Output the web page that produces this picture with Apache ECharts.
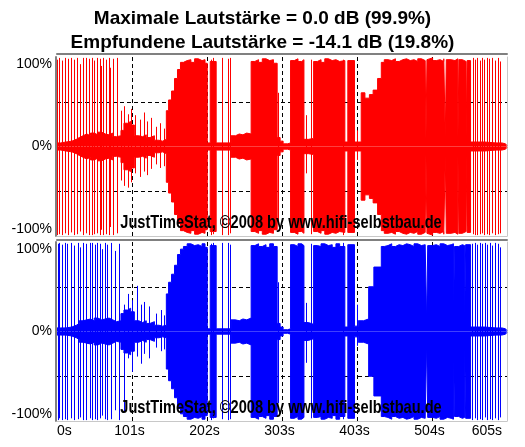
<!DOCTYPE html>
<html>
<head>
<meta charset="utf-8">
<script src="https://cdn.jsdelivr.net/npm/echarts@6/dist/echarts.min.js"></script>
<style>html,body{margin:0;padding:0;background:#fff}#c{width:525px;height:447px}</style>
</head>
<body>
<div id="c"></div>
<script>
// ---------- data ----------
const titleLines = ['Maximale Lautstärke = 0.0 dB (99.9%)', 'Empfundene Lautstärke = -14.1 dB (19.8%)'];
const watermark = 'JustTimeStat, ©2008 by www.hifi-selbstbau.de';
const xMaxSeconds = 605;
const xTickLabels = ['0s', '101s', '202s', '303s', '403s', '504s', '605s'];
const yTickLabels = { '100': '100%', '0': '0%', '-100': '-100%' };

// envelope: [start time s, amplitude %] (holds until next point)
const redEnvelope = [
  [0,4],[5,5],[12,6],[20,8],[26,10],[30,12],[35,14],[40,12],[45,15],[50,13],[55,16],[60,14],[65,13],[70,15],[75,11],[80,12],
  [86,18],[90,26],[95,28],[99,24],[104,12],[110,11],[115,13],[120,10],[125,12],[131,7],[137,6],[142,8],
  [147,40],[150,52],[154,62],[158,76],[162,86],[166,94],[170,96],[175,97],[180,94],[185,98],[190,96],[195,97],[199,93],
  [202,4],[206,95],[214,4],[234,12],[240,14],[245,13],[250,15],[255,14],
  [261,95],[266,97],[271,94],[276,98],[281,96],[286,97],[291,93],[296,10],[300,6],[304,3],[310,4],
  [314,96],[319,98],[324,95],[329,97],[332,8],[338,9],
  [345,95],[350,97],[355,94],[360,98],[365,96],[370,97],[375,95],[380,96],[387,5],[391,96],[400,5],
  [409,60],[414,54],[420,58],[425,63],[431,76],[436,94],[440,97],[445,96],[450,98],[455,95],[460,97],[465,98],[470,96],
  [475,97],[480,95],[485,98],[490,96],[495,97],[496,8],[497.4,97],[500,99],[505,96],[510,97],[515,95],[520,98],[522,10],[523.4,97],
  [525,97],[530,96],[535,98],[539,9],[540.4,97],[545,95],[550,10],[551.4,96],[556,5],[575,4],[590,4],[598,3],[603,1],[605,1]
];
const blueEnvelope = [
  [0,4],[5,4],[12,5],[20,7],[26,9],[30,12],[35,13],[40,14],[45,12],[50,15],[55,13],[60,14],[65,15],[70,13],[75,11],[80,12],
  [86,20],[90,24],[95,26],[99,22],[104,12],[110,10],[115,12],[120,9],[125,11],[131,7],[137,6],[142,7],
  [147,42],[150,55],[154,64],[158,74],[162,86],[166,92],[170,95],[175,98],[180,96],[185,97],[190,95],[195,98],[199,94],
  [202,3],[206,96],[214,3],[234,13],[240,12],[245,14],[250,13],[255,15],
  [261,96],[266,98],[271,95],[276,97],[281,94],[286,98],[291,95],[296,9],[300,5],[304,2],[310,3],
  [314,97],[319,95],[324,98],[329,96],[332,10],[338,8],
  [345,96],[350,95],[355,98],[360,96],[365,97],[370,94],[375,98],[380,95],[387,5],[391,97],[400,6],
  [405,12],[412,14],[419,50],[426,72],[436,95],[440,96],[445,98],[450,95],[455,97],[460,96],[465,98],[470,97],
  [475,95],[480,98],[485,96],[490,97],[495,98],[497,9],[498.4,96],[505,97],[510,95],[515,98],[520,96],[525,97],[530,98],
  [533,10],[534.4,95],[540,97],[545,96],[548,9],[549.4,97],[556,5],[575,4],[590,4],[598,3],[603,1],[605,1]
];
// isolated peaks: [time s, up %, down %]
const redSpikes = [
  [1,97,99],[4,99,98],[8,96,99],[11,99,97],[16,98,99],[20,99,96],[24,97,99],[28,99,98],[32,92,95],[36,99,99],
  [40,99,97],[44,98,99],[48,99,99],[51,96,98],[54,99,97],[58,98,99],[60,90,93],[63,99,99],[67,97,98],[70,99,99],
  [72,88,90],[76,98,99],[82,99,97],[87,40,38],[91,45,44],[96,36,46],[100,42,40],[106,35,30],[112,30,34],[118,38,28],
  [122,28,32],[127,32,25],[134,22,20],[139,26,24],[144,20,22],[208,97,99],[211,99,98],[223,99,99],[231,98,99],[233,99,97],
  [298,60,85],[336,35,30],[342,97,98],[385,97,99],[404,18,15],
  [560,99,98],[563,97,99],[566,99,99],[569,96,98],[572,99,97],[575,97,99],[579,99,98],[582,98,99],[586,99,97],[589,96,99],
  [593,99,98],[596,95,97]
];
const blueSpikes = [
  [2,98,99],[4,99,97],[8,97,99],[11,99,98],[14,98,99],[20,99,97],[23,96,99],[29,99,98],[32,94,96],[36,99,99],
  [40,98,99],[45,99,97],[48,99,99],[52,97,98],[55,99,99],[58,98,97],[61,92,94],[65,99,98],[68,97,99],[73,99,98],
  [78,90,88],[84,98,99],[91,30,90],[96,42,30],[101,35,45],[108,51,28],[113,30,36],[118,33,25],[124,28,30],
  [134,20,18],[140,24,22],[145,18,20],[208,98,99],[211,99,97],[223,99,98],[231,99,99],[233,97,98],
  [298,55,80],[336,32,35],[342,98,97],[385,99,98],[404,30,16],
  [559,98,99],[562,99,97],[565,97,99],[569,99,98],[572,98,99],[576,99,96],[579,97,99],[583,99,98],[586,96,99],[590,99,97],
  [593,98,99],[596,94,96]
];

// ---------- chart ----------
const FONT = '"Liberation Sans", Arial, sans-serif';
const DARK = '#808080', LIGHT = '#c8c8c8';
const chart = echarts.init(document.getElementById('c'), null, { renderer: 'canvas' });

const grids = [
  { left: 57, top: 57, width: 450, height: 179 },
  { left: 57, top: 242, width: 450, height: 179 }
];
const TRANS = 'rgba(0,0,0,0)';

function xAxes(g, withLabels, topOffset) {
  return [
    {
      gridIndex: g, type: 'value', min: 0, max: xMaxSeconds, interval: xMaxSeconds / 6, position: 'bottom',
      axisLine: { show: true, onZero: false, lineStyle: { color: LIGHT, width: 1 } },
      axisTick: { show: false },
      axisLabel: {
        show: withLabels, margin: 3, color: '#000', fontFamily: FONT, fontSize: 14,
        padding: [0, 5, 0, 0],
        alignMinLabel: 'left', alignMaxLabel: 'right',
        formatter: (v, i) => xTickLabels[i] || ''
      },
      splitLine: { show: true, lineStyle: { color: [TRANS, '#000', '#000', '#000', '#000', '#000', TRANS], type: [4, 3], width: 1 } }
    },
    {
      gridIndex: g, type: 'value', min: 0, max: xMaxSeconds, position: 'top', offset: topOffset,
      axisLine: { show: true, onZero: false, lineStyle: { color: DARK, width: 2 } },
      axisTick: { show: false }, axisLabel: { show: false }, splitLine: { show: false }
    }
  ];
}
function yAxes(g) {
  return [
    {
      gridIndex: g, type: 'value', min: -100, max: 100, interval: 50, position: 'left', offset: 1,
      axisLine: { show: true, onZero: false, lineStyle: { color: DARK, width: 2 } },
      axisTick: { show: false },
      axisLabel: {
        margin: 4, color: '#000', fontFamily: FONT, fontSize: 14,
        verticalAlignMaxLabel: 'top', verticalAlignMinLabel: 'bottom',
        formatter: v => yTickLabels[String(v)] || ''
      },
      splitLine: { show: true, lineStyle: { color: [TRANS, '#000', TRANS, '#000', TRANS], type: [4, 3], width: 1 } }
    },
    {
      gridIndex: g, type: 'value', min: -100, max: 100, position: 'right',
      axisLine: { show: true, onZero: false, lineStyle: { color: LIGHT, width: 1 } },
      axisTick: { show: false }, axisLabel: { show: false }, splitLine: { show: false }
    }
  ];
}

function channel(env, spikes, color, xi, yi) {
  const areaLine = (data) => ({
    type: 'line', xAxisIndex: xi, yAxisIndex: yi, data, step: 'end', showSymbol: false, symbol: 'none',
    lineStyle: { color, width: 1 }, areaStyle: { color, opacity: 1 }, silent: true, z: 2
  });
  return [
    areaLine(env.map(p => [p[0], p[1]])),
    areaLine(env.map(p => [p[0], -p[1]])),
    {
      type: 'custom', xAxisIndex: xi, yAxisIndex: yi, data: spikes, silent: true, z: 3,
      renderItem: (params, api) => {
        const t = api.value(0);
        const a = api.coord([t, api.value(1)]);
        const b = api.coord([t, -api.value(2)]);
        const x = Math.floor(a[0]) + 0.5;
        return { type: 'line', shape: { x1: x, y1: a[1], x2: x, y2: b[1] }, style: { stroke: color, lineWidth: 1, fill: null } };
      }
    }
  ];
}

const wmFont = 'bold 14.6px "Liberation Sans", Arial, sans-serif';
const option = {
  animation: false,
  backgroundColor: '#fff',
  title: [
    { text: titleLines[0], left: 'center', top: 4, textStyle: { fontFamily: FONT, fontSize: 19, fontWeight: 'bold', color: '#000', lineHeight: 20 } },
    { text: titleLines[1], left: 'center', top: 27.5, textStyle: { fontFamily: FONT, fontSize: 19, fontWeight: 'bold', color: '#000', lineHeight: 20 } }
  ],
  grid: grids,
  xAxis: [...xAxes(0, false, 3), ...xAxes(1, true, 2)],
  yAxis: [...yAxes(0), ...yAxes(1)],
  series: [
    ...channel(redEnvelope, redSpikes, '#ff0000', 0, 0),
    ...channel(blueEnvelope, blueSpikes, '#0000ff', 2, 2)
  ],
  graphic: [
    { type: 'text', x: 281, y: 223.5, scaleY: 1.2, z: 100, style: { text: watermark, font: wmFont, fill: '#000', align: 'center', verticalAlign: 'middle' } },
    { type: 'text', x: 281, y: 408.5, scaleY: 1.2, z: 100, style: { text: watermark, font: wmFont, fill: '#000', align: 'center', verticalAlign: 'middle' } }
  ]
};
chart.setOption(option);
</script>
</body>
</html>
